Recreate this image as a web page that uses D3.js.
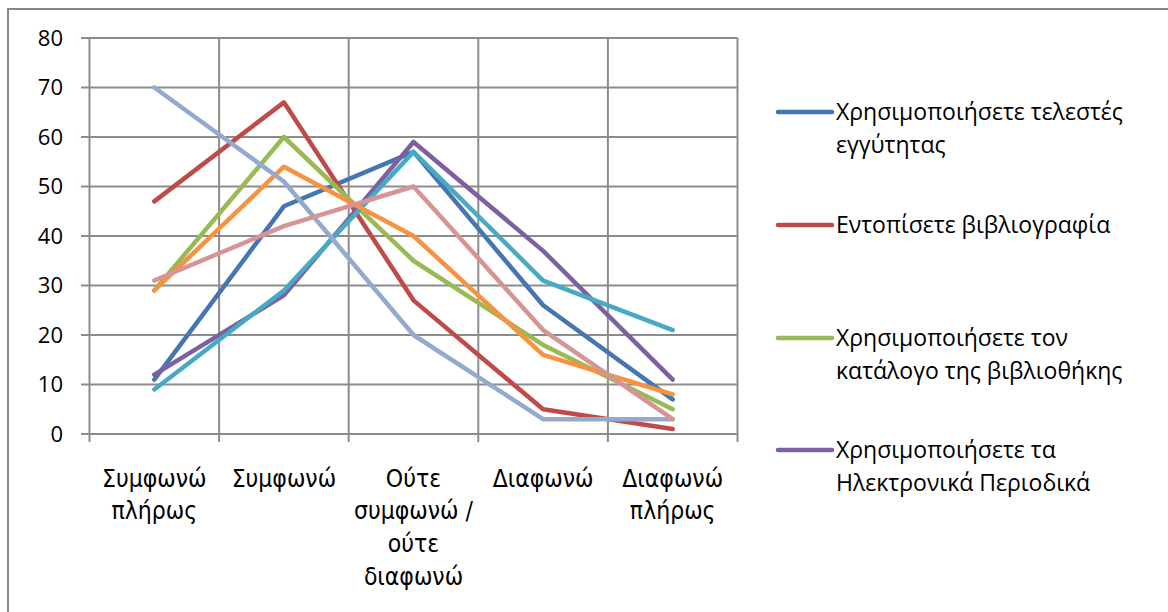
<!DOCTYPE html>
<meta charset="utf-8">
<style>
body { margin: 0; background: #fff; }
.grid line { stroke: #8c8c8c; stroke-width: 2; }
.series { fill: none; stroke-width: 4.5; stroke-linejoin: round; stroke-linecap: round; }
.tick-label { font-family: "Open Sans", sans-serif; font-size: 22px; fill: #000; }
.cat-label { font-family: "Liberation Sans Narrow", "DejaVu Sans Condensed", sans-serif; font-size: 24.5px; fill: #000; }
.legend text { font-family: "Open Sans", sans-serif; font-size: 23px; fill: #000; }
</style>
<svg width="1168" height="612"></svg>
<script src="https://d3js.org/d3.v7.min.js"></script>
<script>

var categories = [
  ["Συμφωνώ", "πλήρως"],
  ["Συμφωνώ"],
  ["Ούτε", "συμφωνώ /", "ούτε", "διαφωνώ"],
  ["Διαφωνώ"],
  ["Διαφωνώ", "πλήρως"]
];

var seriesNames = [
  ["Χρησιμοποιήσετε τελεστές", "εγγύτητας"],
  ["Εντοπίσετε βιβλιογραφία"],
  ["Χρησιμοποιήσετε τον", "κατάλογο της βιβλιοθήκης"],
  ["Χρησιμοποιήσετε τα", "Ηλεκτρονικά Περιοδικά"],
  ["Series 5"], ["Series 6"], ["Series 7"], ["Series 8"]
];

var s1 = [11, 46, 57, 26, 7];
var s2 = [47, 67, 27, 5, 1];
var s3 = [29, 60, 35, 18, 5];
var s4 = [12, 28, 59, 37, 11];
var s5 = [9, 29, 57, 31, 21];
var s6 = [29, 54, 40, 16, 8];
var s7 = [70, 51, 20, 3, 3];
var s8 = [31, 42, 50, 21, 3];

var yTicks = [0, 10, 20, 30, 40, 50, 60, 70, 80];

var colors = ["#4676B2", "#BE4B48", "#98B954", "#7D60A0", "#46AAC5", "#F69240", "#93A9CF", "#D69594"];

var allSeries = [s1, s2, s3, s4, s5, s6, s7, s8];

var svg = d3.select("svg");

// outer chart border (runs off the right and bottom of the picture)
svg.append("path")
  .attr("d", "M8,1200 L8,9 L1200,9")
  .attr("fill", "none")
  .attr("stroke", "#868686")
  .attr("stroke-width", 2);

var x = d3.scaleBand()
  .domain(d3.range(categories.length))
  .range([89.5, 737.5]);

var y = d3.scaleLinear()
  .domain([0, 80])
  .range([434, 38]);

var grid = svg.append("g").attr("class", "grid");

grid.selectAll(".h")
  .data(yTicks)
  .enter().append("line")
    .attr("x1", 81)
    .attr("x2", x.range()[1])
    .attr("y1", function(d) { return y(d); })
    .attr("y2", function(d) { return y(d); });

var edges = d3.range(categories.length + 1).map(function(i) {
  return i < categories.length ? x(i) : x.range()[1];
});

grid.selectAll(".v")
  .data(edges)
  .enter().append("line")
    .attr("x1", function(d) { return d; })
    .attr("x2", function(d) { return d; })
    .attr("y1", y(80))
    .attr("y2", y(0) + 8);

svg.selectAll(".tick-label")
  .data(yTicks)
  .enter().append("text")
    .attr("class", "tick-label")
    .attr("x", 63)
    .attr("y", function(d) { return y(d); })
    .attr("dy", "0.35em")
    .attr("text-anchor", "end")
    .text(function(d) { return d; });

var cat = svg.selectAll(".cat-label")
  .data(categories)
  .enter().append("text")
    .attr("class", "cat-label")
    .attr("text-anchor", "middle")
    .attr("transform", function(d, i) {
      return "translate(" + (x(i) + x.bandwidth() / 2) + ",478)";
    });

cat.selectAll("tspan")
  .data(function(d) { return d; })
  .enter().append("tspan")
    .attr("x", 0)
    .attr("y", function(d, i) { return i * 32.7; })
    .attr("dy", "0.35em")
    .text(function(d) { return d; });

var line = d3.line()
  .x(function(d, i) { return x(i) + x.bandwidth() / 2; })
  .y(function(d) { return y(d); });

svg.selectAll(".series")
  .data(allSeries)
  .enter().append("path")
    .attr("class", "series")
    .attr("stroke", function(d, i) { return colors[i]; })
    .attr("d", line);

// legend: only the first four entries fit in the chart box
var legendY = [112, 225, 338, 450];

var legend = svg.append("g")
  .attr("class", "legend")
  .selectAll("g")
  .data(seriesNames.slice(0, 4))
  .enter().append("g")
    .attr("transform", function(d, i) { return "translate(778," + legendY[i] + ")"; });

legend.append("line")
  .attr("x1", 0)
  .attr("x2", 54)
  .attr("stroke", function(d, i) { return colors[i]; })
  .attr("stroke-width", 4.5)
  .attr("stroke-linecap", "round");

legend.append("text")
  .selectAll("tspan")
  .data(function(d) { return d; })
  .enter().append("tspan")
    .attr("x", 58)
    .attr("y", function(d, i) { return i * 33; })
    .attr("dy", "0.35em")
    .text(function(d) { return d; });

</script>
